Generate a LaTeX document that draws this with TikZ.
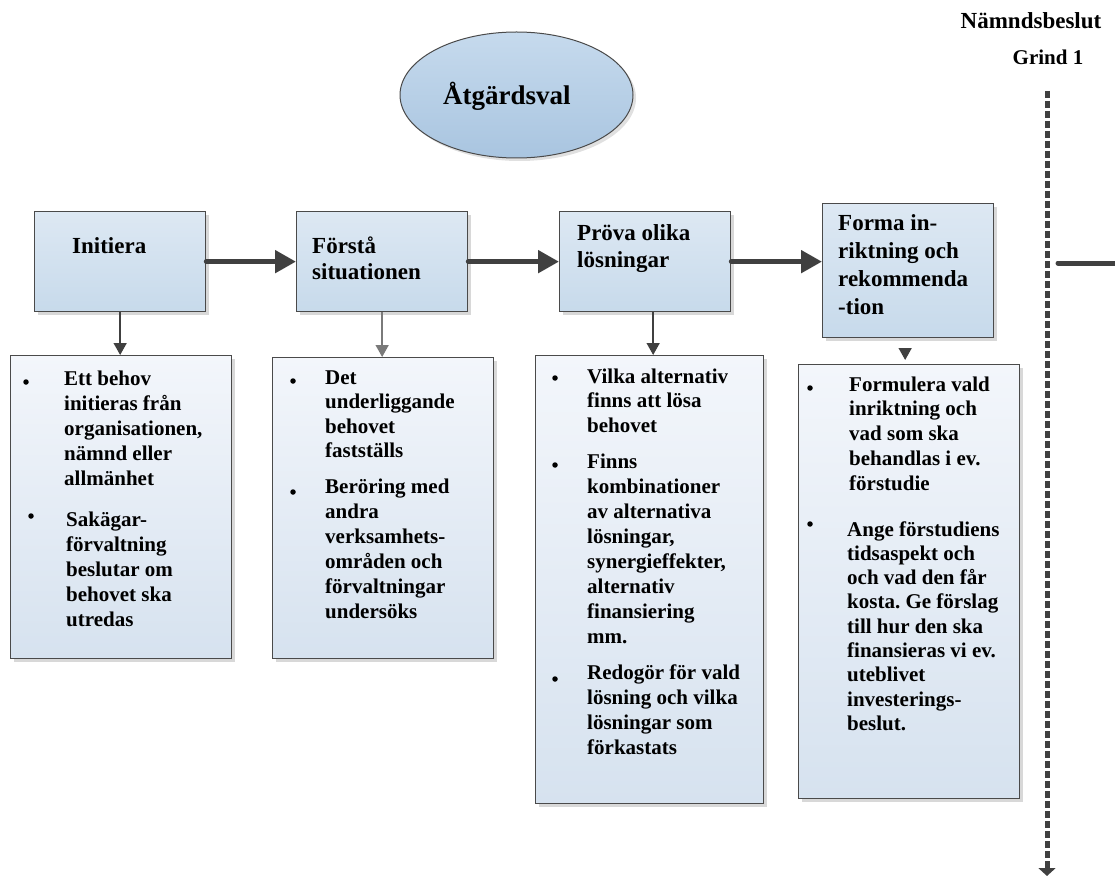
\documentclass[tikz,border=0pt]{standalone}
\usepackage{fontspec}
\setmainfont{Liberation Serif}
\usetikzlibrary{arrows.meta,shapes.geometric,shadows}
\definecolor{topA}{HTML}{DDE8F3}
\definecolor{topB}{HTML}{C7DAEB}
\definecolor{lowA}{HTML}{F3F6FB}
\definecolor{lowB}{HTML}{D6E2EF}
\definecolor{ellA}{HTML}{C6DAED}
\definecolor{ellB}{HTML}{A9C5E0}
\definecolor{boxline}{HTML}{4A4A4A}
\definecolor{arrowgray}{HTML}{404040}
\definecolor{lightline}{HTML}{7A7A7A}
\newcommand{\fTop}{\fontsize{23}{27}\selectfont\bfseries}
\newcommand{\fLow}{\fontsize{21}{25}\selectfont\bfseries}
\newcommand{\fEll}{\fontsize{27}{30}\selectfont\bfseries}
\frenchspacing
\begin{document}
\begin{tikzpicture}[x=1pt,y=-1pt,
  topbox/.style={draw=boxline, line width=1.3pt, top color=topA, bottom color=topB,
    inner sep=0pt, anchor=north west,
    drop shadow={shadow xshift=3pt, shadow yshift=-3pt, fill=black!30, opacity=0.5}},
  lowbox/.style={draw=boxline, line width=1.3pt, top color=lowA, bottom color=lowB,
    inner sep=0pt, anchor=north west,
    drop shadow={shadow xshift=3pt, shadow yshift=-3pt, fill=black!30, opacity=0.5}},
  toptext/.style={font=\fTop, align=left, inner sep=0pt, anchor=base west},
  lowtext/.style={font=\fLow, align=left, inner sep=0pt, anchor=base west},
  bul/.style={circle, fill=black, inner sep=0pt, minimum size=5.5pt},
  flow/.style={line width=5pt, draw=arrowgray, line cap=round,
    -{Triangle[length=21pt,width=22pt]}},
  downarrow/.style={line width=1.5pt, draw=arrowgray,
    -{Triangle[length=12pt,width=13pt]}},
  gate/.style={line width=5pt, draw=arrowgray, dash pattern=on 7pt off 3pt,
    -{Triangle[length=8pt,width=17pt]}}
]
\useasboundingbox (0,0) rectangle (1115,877);

% ellipse
\node[ellipse, draw=boxline, line width=1pt, top color=ellA, bottom color=ellB,
  minimum width=233pt, minimum height=126pt, inner sep=0pt,
  drop shadow={shadow xshift=3pt, shadow yshift=-3pt, fill=black!30, opacity=0.4}]
  (ell) at (516.5,95) {};
\node[font=\fEll, inner sep=0pt, anchor=base west] (elltext) at (443,105) {Åtgärdsval};

% gate labels
\node[font=\fontsize{23}{27}\selectfont\bfseries, inner sep=0pt, anchor=base] (nb) at (1031,29) {Nämndsbeslut};
\node[font=\fontsize{21}{25}\selectfont\bfseries, inner sep=0pt, anchor=base] (g1) at (1048,65) {Grind 1};

% top boxes
\node[topbox, minimum width=171pt, minimum height=100pt] (ini) at (34,211) {};
\node[topbox, minimum width=171pt, minimum height=100pt] (fs) at (296,211) {};
\node[topbox, minimum width=171pt, minimum height=100pt] (pr) at (559,211) {};
\node[topbox, minimum width=171pt, minimum height=134pt] (fo) at (822,203) {};

% (base anchor = baseline of the last line)
\node[toptext] (iniT) at (72,254) {Initiera};
\node[toptext, font=\fontsize{23}{26}\selectfont\bfseries] (fsT) at (312,279) {Förstå\\situationen};
\node[toptext] (prT) at (577,267) {Pröva olika\\lösningar};
\node[toptext, font=\fontsize{23}{28}\selectfont\bfseries] (foT) at (838,314) {Forma in-\\riktning och\\rekommenda\\-tion};

% lower boxes
\node[lowbox, minimum width=221pt, minimum height=303pt] (iniL) at (10,355) {};
\node[lowbox, minimum width=221pt, minimum height=301pt] (fsL) at (272,357) {};
\node[lowbox, minimum width=228pt, minimum height=448pt] (prL) at (535,355) {};
\node[lowbox, minimum width=221pt, minimum height=434pt] (foL) at (798,364) {};

% flow arrows
\draw[flow] (ini.east) -- (fs.west);
\draw[flow] (fs.east) -- (pr.west);
\draw[flow] (pr.east) -- (pr.east -| fo.west);

% down arrows
\draw[downarrow] (ini.south) -- (ini.south |- iniL.north);
\draw[downarrow, draw=lightline] (fs.south) -- (fs.south |- fsL.north);
\draw[downarrow] ([xshift=8pt]pr.south) -- ([xshift=8pt]pr.south |- prL.north);
\draw[downarrow, shorten <=12pt, shorten >=4pt] ([xshift=-3pt]fo.south) -- ([xshift=-3pt]fo.south |- foL.north);

% gate line
\coordinate (gtop) at (1047,91);
\coordinate (gbot) at (1047,876);
\draw[gate] (gtop) -- (gbot);
\coordinate (rA) at (1116,263);
\coordinate (rB) at (1058,263);
\draw[line width=5pt, draw=arrowgray, line cap=round] (rA) -- (rB);

% bullets and texts: Initiera
\node[bul] (b1a) at (26,382) {};
\node[lowtext] (t1a) at (64,485) {Ett behov\\initieras från\\organisationen,\\nämnd eller\\allmänhet};
\node[bul] (b1b) at (31,516) {};
\node[lowtext] (t1b) at (66,626) {Sakägar-\\förvaltning\\beslutar om\\behovet ska\\utredas};

% Förstå
\node[bul] (b2a) at (293,381) {};
\node[lowtext, font=\fontsize{21}{24.5}\selectfont\bfseries] (t2a) at (325,457.5) {Det\\underliggande\\behovet\\fastställs};
\node[bul] (b2b) at (293,492) {};
\node[lowtext] (t2b) at (325,618) {Beröring med\\andra\\verksamhets-\\områden och\\förvaltningar\\undersöks};

% Pröva
\node[bul] (b3a) at (555,378) {};
\node[lowtext, font=\fontsize{21}{24.5}\selectfont\bfseries] (t3a) at (587,432) {Vilka alternativ\\finns att lösa\\behovet};
\node[bul] (b3b) at (555,465) {};
\node[lowtext] (t3b) at (587,643) {Finns\\kombinationer\\av alternativa\\lösningar,\\synergieffekter,\\alternativ\\finansiering\\mm.};
\node[bul] (b3c) at (555,679) {};
\node[lowtext] (t3c) at (587,754) {Redogör för vald\\lösning och vilka\\lösningar som\\förkastats};

% Forma
\node[bul] (b4a) at (810,388) {};
\node[lowtext, font=\fontsize{21}{24.8}\selectfont\bfseries] (t4a) at (849,490.2) {Formulera vald\\inriktning och\\vad som ska\\behandlas i ev.\\förstudie};
\node[bul] (b4b) at (810,524) {};
\node[lowtext, font=\fontsize{21}{24.3}\selectfont\bfseries] (t4b) at (847,730.4) {Ange förstudiens\\tidsaspekt och\\och vad den får\\kosta. Ge förslag\\till hur den ska\\finansieras vi ev.\\uteblivet\\investerings-\\beslut.};
\end{tikzpicture}
\end{document}
